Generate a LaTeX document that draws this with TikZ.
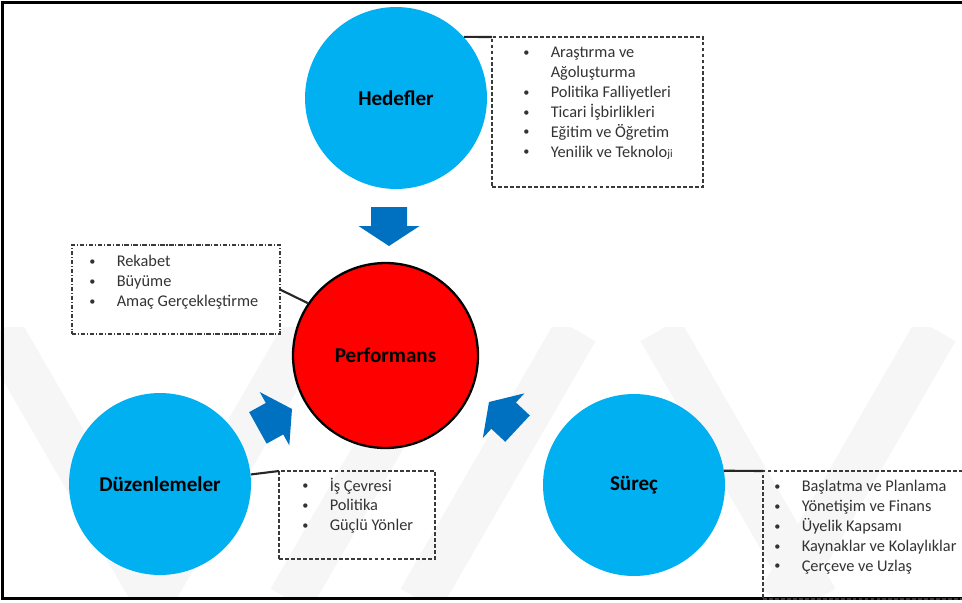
\documentclass[tikz,border=0pt]{standalone}
\usepackage{fontspec}
\setmainfont{Carlito}
\usepackage{tikz}

\definecolor{circblue}{HTML}{00B0F0}
\definecolor{arrowblue}{HTML}{0070C0}
\definecolor{perfred}{HTML}{FF0000}
\definecolor{wmgray}{HTML}{F6F6F6}
\definecolor{boxline}{HTML}{3A3A3A}
\definecolor{linkgray}{HTML}{262626}
\definecolor{listgray}{HTML}{333333}

\newcommand{\dotmark}{\raisebox{0.7pt}{\fontsize{7}{8}\selectfont •}}
\newcommand{\bulletlist}[1]{\begin{tabular}[t]{@{}p{15.6pt}@{}l@{}}#1\end{tabular}}

\begin{document}
\begin{tikzpicture}[x=0.02cm, y=-0.02cm,
    goal/.style={circle, fill=circblue, inner sep=0, minimum size=3.64cm,
      font=\fontsize{12}{14}\selectfont\bfseries},
    perf/.style={circle, draw=black, line width=1.3pt, fill=perfred, inner sep=0,
      minimum size=3.7cm, font=\fontsize{12}{14}\selectfont\bfseries},
    dashbox/.style={draw=boxline, line width=0.8pt, dash pattern=on 2.2pt off 1.2pt,
      anchor=north west, inner sep=0, outer sep=0},
    dotbox/.style={dashbox, dash pattern=on 2.5pt off 1pt on 0.6pt off 1pt},
    bullets/.style={anchor=base west, inner sep=0, text=listgray,
      font=\fontsize{9.3}{11.34}\selectfont},
    link/.style={draw=linkgray, line width=1.2pt},
    blockarrow/.style={fill=arrowblue}]
    \useasboundingbox (0,0) rectangle (962,602);
    \clip (0,0) rectangle (962,602);

    % Faint watermark stripes
    \begin{scope}
      \clip (0,327) rectangle (962,598);
      \draw[wmgray, line width=0.9cm] (0,330) -- (156,600);
      \draw[wmgray, line width=0.9cm] (150,600) -- (306,330);
      \draw[wmgray, line width=0.9cm] (290,600) -- (446,330);
      \draw[wmgray, line width=0.9cm] (420,600) -- (576,330);
      \draw[wmgray, line width=0.9cm] (660,330) -- (816,600);
      \draw[wmgray, line width=0.9cm] (780,600) -- (936,330);
    \end{scope}

    % Frame of the figure
    \draw[line width=1.4pt] (962,2.5) -- (2.5,2.5) -- (2.5,598.5) -- (962,598.5);

    % The four circles
    \node[goal] (hed) at (396,98) {Hedefler};
    \node[perf] (perf) at (385.5,355.5) {Performans};
    \node[goal] (duz) at (160,484) {Düzenlemeler};
    \node[goal] (sur) at (634,485) {Süreç};

    % Block arrows pointing at Performans
    \fill[blockarrow, shift={(389,246)}, rotate=-90]
      (0,0) -- (-20,30.5) -- (-20,18) -- (-39,18) -- (-39,-18) -- (-20,-18) -- (-20,-30.5) -- cycle;
    \fill[blockarrow, shift={(292,409)}, rotate=29]
      (0,0) -- (-20,30.5) -- (-20,18) -- (-39,18) -- (-39,-18) -- (-20,-18) -- (-20,-30.5) -- cycle;
    \fill[blockarrow, shift={(489,402)}, rotate=137]
      (0,0) -- (-20,30.5) -- (-20,18) -- (-39,18) -- (-39,-18) -- (-20,-18) -- (-20,-30.5) -- cycle;

    % Boxes with the lists
    \node[dashbox, minimum width=4.22cm, minimum height=3cm] (hedbox) at (492,37) {};
    \node[dotbox, minimum width=4.16cm, minimum height=1.78cm] (rekbox) at (72,245) {};
    \node[dashbox, minimum width=3.12cm, minimum height=1.76cm] (duzbox) at (279,471) {};
    \node[dashbox, minimum width=4.6cm, minimum height=2.56cm] (surbox) at (763,471) {};

    \node[bullets] (hedlist) at (523,57.5) {\bulletlist{
      \dotmark & Araştırma ve\\
               & Ağoluşturma\\
      \dotmark & Politika Falliyetleri\\
      \dotmark & Ticari İşbirlikleri\\
      \dotmark & Eğitim ve Öğretim\\
      \dotmark & Yenilik ve Teknolo{\fontsize{6.5}{8}\selectfont ji}\\}};
    \node[bullets] (reklist) at (89,266.5) {\bulletlist{
      \dotmark & Rekabet\\
      \dotmark & Büyüme\\
      \dotmark & Amaç Gerçekleştirme\\}};
    \node[bullets] (duzlist) at (302,491) {\bulletlist{
      \dotmark & İş Çevresi\\
      \dotmark & Politika\\
      \dotmark & Güçlü Yönler\\}};
    \node[bullets] (surlist) at (774,491.5) {\bulletlist{
      \dotmark & Başlatma ve Planlama\\
      \dotmark & Yönetişim ve Finans\\
      \dotmark & Üyelik Kapsamı\\
      \dotmark & Kaynaklar ve Kolaylıklar\\
      \dotmark & Çerçeve ve Uzlaş\\}};

    % Links from circles to boxes
    \draw[link] (hed.42) -- (hedbox.north west);
    \draw[link] (rekbox.east) -- (perf.146);
    \draw[link] (duz.6) -- (duzbox.north west);
    \draw[link] (sur.9) -- (surbox.north west);
\end{tikzpicture}
\end{document}
